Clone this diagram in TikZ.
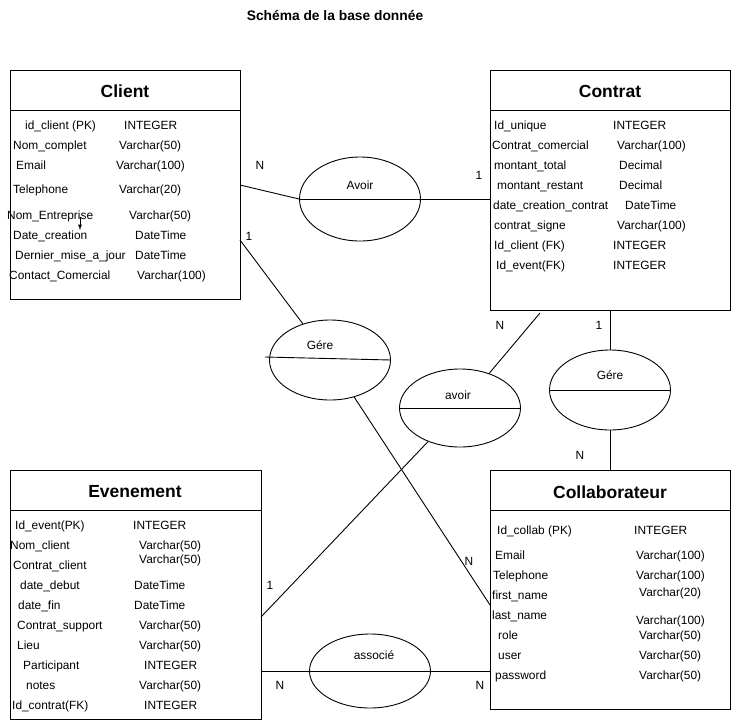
\documentclass[tikz,border=0pt]{standalone}
\usepackage{fontspec}
\setmainfont{Liberation Sans}
\usetikzlibrary{shapes,arrows,positioning}

\begin{document}
\begin{tikzpicture}[x=1pt,y=-1pt]
    \tikzstyle{table}=[rectangle,draw,line width=0.9pt,anchor=north west,inner sep=0pt]
    \tikzstyle{head}=[font=\fontsize{17.5}{20}\selectfont\bfseries]
    \tikzstyle{attr}=[anchor=base west,inner sep=0pt,yshift=-4pt,font=\fontsize{11.9}{13}\selectfont]
    \tikzstyle{card}=[font=\fontsize{11.9}{13}\selectfont]
    \tikzstyle{rel}=[ellipse,draw,line width=0.9pt,minimum width=121pt,minimum height=80pt,inner sep=0pt]

    \tikzstyle{every edge}=[draw,line width=0.9pt]

    \useasboundingbox (0,0) rectangle (731,721);

    \node[font=\fontsize{13.8}{16}\selectfont\bfseries] (title) at (335,16) {Schéma de la base donnée};

    % entities
    \node[table,minimum width=230pt,minimum height=229pt] (client) at (10,70) {};
    \node[table,minimum width=240pt,minimum height=240pt] (contrat) at (490,70) {};
    \node[table,minimum width=251pt,minimum height=249pt] (event) at (10,470) {};
    \node[table,minimum width=240pt,minimum height=239pt] (collab) at (490,470) {};

    \path (client.west |- 0,110) edge (client.east |- 0,110);
    \path (contrat.west |- 0,110) edge (contrat.east |- 0,110);
    \path (event.west |- 0,510) edge (event.east |- 0,510);
    \path (collab.west |- 0,510) edge (collab.east |- 0,510);

    \node[head] (clientT) at (125,91) {Client};
    \node[head] (contratT) at (610,91) {Contrat};
    \node[head] (eventT) at (135,492) {Evenement};
    \node[head] (collabT) at (610,492) {Collaborateur};

    % Client
    \node[attr] (cl1) at (25,125) {id\_client (PK)};
    \node[attr] (cl1t) at (124,125) {INTEGER};
    \node[attr] (cl2) at (13,145) {Nom\_complet};
    \node[attr] (cl2t) at (119,145) {Varchar(50)};
    \node[attr] (cl3) at (16,165) {Email};
    \node[attr] (cl3t) at (116,165) {Varchar(100)};
    \node[attr] (cl4) at (13,189) {Telephone};
    \node[attr] (cl4t) at (119,189) {Varchar(20)};
    \node[attr] (cl5) at (7,215) {Nom\_Entreprise};
    \node[attr] (cl5t) at (129,215) {Varchar(50)};
    \node[attr] (cl6) at (13,235) {Date\_creation};
    \node[attr] (cl6t) at (135,235) {DateTime};
    \node[attr] (cl7) at (15,255) {Dernier\_mise\_a\_jour};
    \node[attr] (cl7t) at (135,255) {DateTime};
    \node[attr] (cl8) at (9,275) {Contact\_Comercial};
    \node[attr] (cl8t) at (137,275) {Varchar(100)};

    \coordinate (tipA) at (80,217);
    \coordinate (tipB) at (80,230);
    \draw[-latex,line width=0.9pt] (tipA) -- (tipB);

    % Contrat
    \node[attr] (co1) at (494,125) {Id\_unique};
    \node[attr] (co1t) at (613,125) {INTEGER};
    \node[attr] (co2) at (492,145) {Contrat\_comercial};
    \node[attr] (co2t) at (617,145) {Varchar(100)};
    \node[attr] (co3) at (494,165) {montant\_total};
    \node[attr] (co3t) at (619,165) {Decimal};
    \node[attr] (co4) at (497,185) {montant\_restant};
    \node[attr] (co4t) at (619,185) {Decimal};
    \node[attr] (co5) at (493,205) {date\_creation\_contrat};
    \node[attr] (co5t) at (625,205) {DateTime};
    \node[attr] (co6) at (494,225) {contrat\_signe};
    \node[attr] (co6t) at (617,225) {Varchar(100)};
    \node[attr] (co7) at (494,245) {Id\_client (FK)};
    \node[attr] (co7t) at (613,245) {INTEGER};
    \node[attr] (co8) at (496,265) {Id\_event(FK)};
    \node[attr] (co8t) at (613,265) {INTEGER};

    % Evenement
    \node[attr] (ev1) at (15,525) {Id\_event(PK)};
    \node[attr] (ev1t) at (133,525) {INTEGER};
    \node[attr] (ev2) at (10,545) {Nom\_client};
    \node[attr] (ev2t) at (139,545) {Varchar(50)};
    \node[attr] (ev3) at (13,565) {Contrat\_client};
    \node[attr] (ev3t) at (139,559) {Varchar(50)};
    \node[attr] (ev4) at (20,585) {date\_debut};
    \node[attr] (ev4t) at (134,585) {DateTime};
    \node[attr] (ev5) at (18,605) {date\_fin};
    \node[attr] (ev5t) at (134,605) {DateTime};
    \node[attr] (ev6) at (17,625) {Contrat\_support};
    \node[attr] (ev6t) at (139,625) {Varchar(50)};
    \node[attr] (ev7) at (17,645) {Lieu};
    \node[attr] (ev7t) at (139,645) {Varchar(50)};
    \node[attr] (ev8) at (23,665) {Participant};
    \node[attr] (ev8t) at (144,665) {INTEGER};
    \node[attr] (ev9) at (26,685) {notes};
    \node[attr] (ev9t) at (139,685) {Varchar(50)};
    \node[attr] (ev10) at (12,705) {Id\_contrat(FK)};
    \node[attr] (ev10t) at (144,705) {INTEGER};

    % Collaborateur
    \node[attr] (cb1) at (497,530) {Id\_collab (PK)};
    \node[attr] (cb1t) at (634,530) {INTEGER};
    \node[attr] (cb2) at (495,555) {Email};
    \node[attr] (cb2t) at (636,555) {Varchar(100)};
    \node[attr] (cb3) at (493,575) {Telephone};
    \node[attr] (cb3t) at (636,575) {Varchar(100)};
    \node[attr] (cb4) at (492,595) {first\_name};
    \node[attr] (cb4t) at (639,592) {Varchar(20)};
    \node[attr] (cb5) at (492,615) {last\_name};
    \node[attr] (cb5t) at (636,620) {Varchar(100)};
    \node[attr] (cb6) at (498,635) {role};
    \node[attr] (cb6t) at (639,635) {Varchar(50)};
    \node[attr] (cb7) at (498,655) {user};
    \node[attr] (cb7t) at (639,655) {Varchar(50)};
    \node[attr] (cb8) at (495,675) {password};
    \node[attr] (cb8t) at (639,675) {Varchar(50)};

    % relations
    \node[rel,minimum height=84pt] (avoirA) at (360,199) {};
    \node[rel] (gereA) at (330,360) {};
    \node[rel,minimum height=78pt] (avoirB) at (460,408) {};
    \node[rel] (gereB) at (610,390) {};
    \node[rel,minimum height=74pt] (associe) at (370,671) {};

    \node[card] (avoirAT) at (360,185) {Avoir};
    \node[card] (gereAT) at (320,345) {Gére};
    \node[card] (avoirBT) at (458,395) {avoir};
    \node[card] (gereBT) at (610,375) {Gére};
    \node[card] (associeT) at (374,655) {associé};

    \coordinate (clA) at (240,185);
    \coordinate (clG) at (240,240);
    \coordinate (coA) at (540,313);
    \coordinate (evA) at (261,617);
    \coordinate (cbG) at (490,605);
    \coordinate (gA) at (265,357);

    \path (avoirA.west) edge (avoirA.east);
    \path (gA) edge (gereA.east);
    \path (avoirB.west) edge (avoirB.east);
    \path (gereB.west) edge (gereB.east);
    \path (associe.west) edge (associe.east);

    \path (clA) edge (avoirA.west);
    \path (avoirA.east) edge (contrat.west |- avoirA.east);
    \path (clG) edge (gereA);
    \path (gereA) edge (cbG);
    \path (coA) edge (avoirB);
    \path (avoirB) edge (evA);
    \path (gereB.north) edge (gereB.north |- contrat.south);
    \path (gereB.south) edge (gereB.south |- collab.north);
    \path (event.east |- associe.west) edge (associe.west);
    \path (associe.east) edge (collab.west |- associe.east);

    % cardinalities
    \node[card] (n1) at (260,165) {N};
    \node[card] (n2) at (479,175) {1};
    \node[card] (n3) at (249,236) {1};
    \node[card] (n4) at (500,325) {N};
    \node[card] (n5) at (599,325) {1};
    \node[card] (n6) at (580,455) {N};
    \node[card] (n7) at (469,561) {N};
    \node[card] (n8) at (270,585) {1};
    \node[card] (n9) at (280,685) {N};
    \node[card] (n10) at (480,685) {N};
\end{tikzpicture}
\end{document}
